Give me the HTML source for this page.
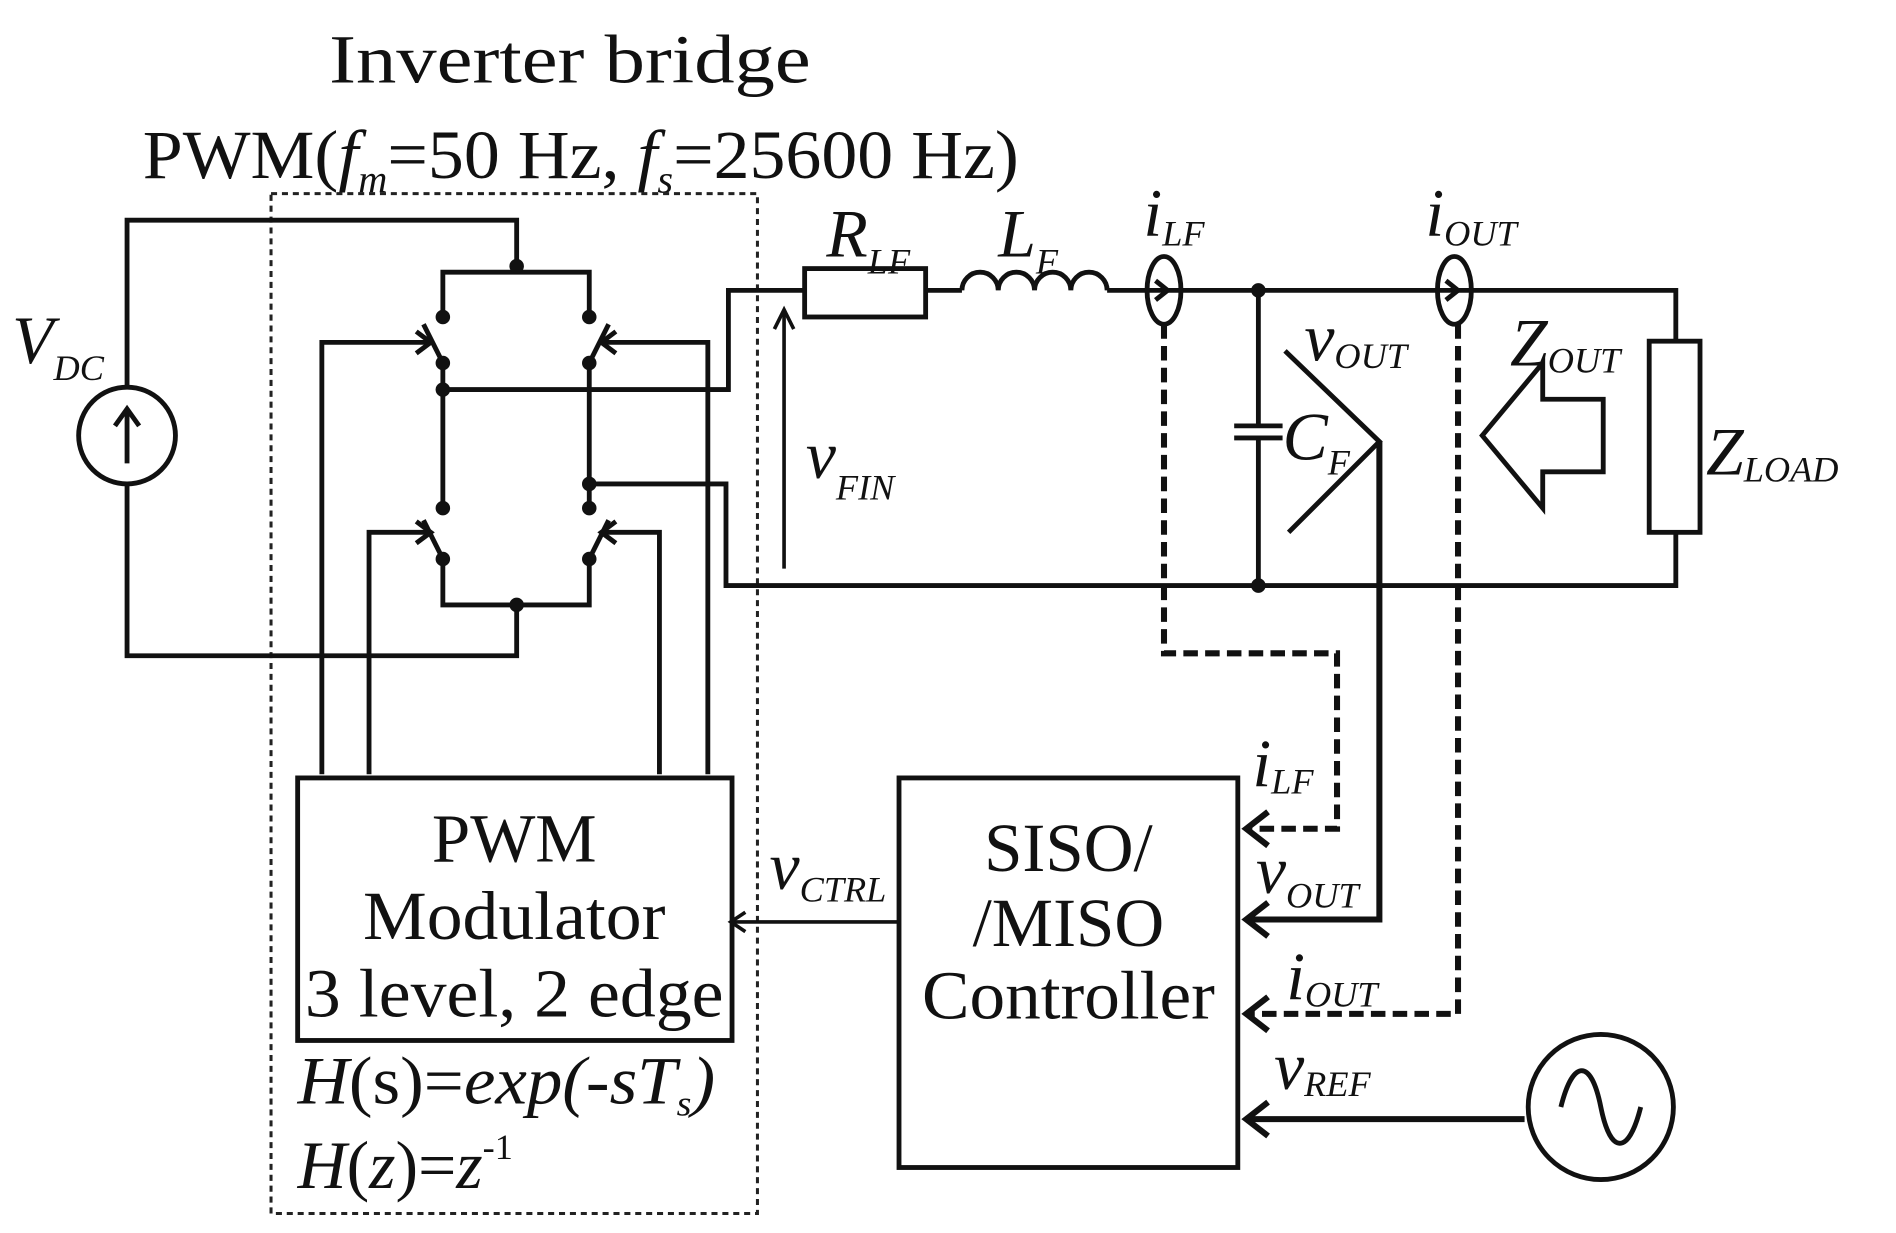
<!DOCTYPE html>
<html><head><style>html,body{margin:0;padding:0;background:#fff}svg{display:block}</style></head>
<body>
<svg width="1896" height="1233" viewBox="0 0 1556 1012" preserveAspectRatio="none" xmlns="http://www.w3.org/2000/svg" font-family="Liberation Serif, serif">
<rect width="1556" height="1012" fill="#fff"/>
<g transform="scale(0.993)">
<g fill="#111" font-size="57">
<text x="272" y="68" textLength="398" lengthAdjust="spacingAndGlyphs">Inverter bridge</text>
<text x="118" y="147" textLength="724" lengthAdjust="spacingAndGlyphs">PWM(<tspan font-style="italic">f</tspan><tspan font-size="32" font-style="italic" dy="12">m</tspan><tspan dy="-12">=50 Hz, </tspan><tspan font-style="italic">f</tspan><tspan font-size="32" font-style="italic" dy="12">s</tspan><tspan dy="-12">=25600 Hz)</tspan></text>
</g>
<rect x="224" y="160" width="402" height="843" fill="none" stroke="#222" stroke-width="2.5" stroke-dasharray="5,4"/>
<g fill="none" stroke="#111" stroke-width="4">
<polyline points="105,320 105,182 427,182 427,220"/>
<polyline points="105,400 105,542 427,542 427,500"/>
<circle cx="105" cy="360" r="40"/>
<line x1="105" y1="383" x2="105" y2="338"/>
<polyline points="95,352 105,338 115,352"/>
<polyline points="366,262 366,225 487,225 487,262"/>
<polyline points="366,462 366,500 487,500 487,462"/>
<line x1="366" y1="300" x2="366" y2="420"/>
<line x1="487" y1="300" x2="487" y2="420"/>
<line x1="366" y1="300" x2="350" y2="268"/>
<line x1="487" y1="300" x2="503" y2="268"/>
<line x1="366" y1="462" x2="350" y2="430"/>
<line x1="487" y1="462" x2="503" y2="430"/>
<polyline points="266,640 266,283 356,283"/>
<polyline points="344,274 356,283 344,292"/>
<polyline points="305,640 305,440 356,440"/>
<polyline points="344,431 356,440 344,449"/>
<polyline points="585,640 585,283 497,283"/>
<polyline points="509,274 497,283 509,292"/>
<polyline points="545,640 545,440 497,440"/>
<polyline points="509,431 497,440 509,449"/>
<polyline points="366,322 602,322 602,240 665,240"/>
<polyline points="487,400 600,400 600,484 1385,484 1385,440"/>
<rect x="665" y="222" width="100" height="40"/>
<line x1="765" y1="240" x2="795" y2="240"/>
<path d="M795,240 a15,15 0 0 1 30,0 a15,15 0 0 1 30,0 a15,15 0 0 1 30,0 a15,15 0 0 1 30,0"/>
<polyline points="915,240 1385,240 1385,282"/>
<rect x="1363" y="282" width="42" height="158"/>
<ellipse cx="962" cy="240" rx="14" ry="28"/>
<ellipse cx="1202" cy="240" rx="14" ry="28"/>
<polyline points="955,232 965,240 955,248"/>
<polyline points="1195,232 1205,240 1195,248"/>
<line x1="1040" y1="240" x2="1040" y2="352"/>
<line x1="1040" y1="362" x2="1040" y2="484"/>
<line x1="1020" y1="352" x2="1060" y2="352"/>
<line x1="1020" y1="362" x2="1060" y2="362"/>
<polyline points="1062,290 1140,365 1065,440"/>
<polygon points="1225,360 1275,300 1275,330 1325,330 1325,390 1275,390 1275,420"/>
<line x1="648" y1="470" x2="648" y2="258" stroke-width="3"/>
<polyline points="640,272 648,256 656,272" stroke-width="3"/>
<rect x="246" y="643" width="359" height="217"/>
<rect x="743" y="643" width="280" height="322"/>
<line x1="743" y1="762" x2="605" y2="762" stroke-width="3"/>
<polyline points="616,754 604,762 616,770" stroke-width="3"/>
<polyline points="1140,365 1140,760 1030,760" stroke-width="5"/>
<polyline points="1048,746 1030,760 1048,774" stroke-width="5"/>
<polyline points="1260,925 1030,925" stroke-width="5"/>
<polyline points="1048,911 1030,925 1048,939" stroke-width="5"/>
<polyline points="962,268 962,540 1105,540 1105,685 1030,685" stroke-width="5" stroke-dasharray="12,6"/>
<polyline points="1048,671 1030,685 1048,699" stroke-width="5"/>
<polyline points="1205,268 1205,838 1030,838" stroke-width="5" stroke-dasharray="12,6"/>
<polyline points="1048,824 1030,838 1048,852" stroke-width="5"/>
<circle cx="1323" cy="915" r="60"/>
<path d="M1290,915 C1300,875 1315,875 1323,915 C1331,955 1346,955 1356,915"/>
</g>
<g fill="#111">
<circle cx="427" cy="220" r="6"/><circle cx="427" cy="500" r="6"/>
<circle cx="366" cy="262" r="6"/><circle cx="487" cy="262" r="6"/>
<circle cx="366" cy="300" r="6"/><circle cx="487" cy="300" r="6"/>
<circle cx="366" cy="322" r="6"/><circle cx="487" cy="400" r="6"/>
<circle cx="366" cy="420" r="6"/><circle cx="487" cy="420" r="6"/>
<circle cx="366" cy="462" r="6"/><circle cx="487" cy="462" r="6"/>
<circle cx="1040" cy="240" r="6"/><circle cx="1040" cy="484" r="6"/>
</g>
<g fill="#111" font-size="56" font-style="italic">
<text x="10" y="300">V<tspan font-size="30" dy="14">DC</tspan></text>
<text x="683" y="212">R<tspan font-size="30" dy="14">LF</tspan></text>
<text x="825" y="212">L<tspan font-size="30" dy="14">F</tspan></text>
<text x="945" y="195">i<tspan font-size="30" dy="8">LF</tspan></text>
<text x="1178" y="195">i<tspan font-size="30" dy="8">OUT</tspan></text>
<text x="1078" y="298">v<tspan font-size="30" dy="6">OUT</tspan></text>
<text x="1248" y="302">Z<tspan font-size="30" dy="6">OUT</tspan></text>
<text x="1060" y="380">C<tspan font-size="30" dy="12">F</tspan></text>
<text x="1410" y="392">Z<tspan font-size="30" dy="6">LOAD</tspan></text>
<text x="666" y="395">v<tspan font-size="30" dy="18">FIN</tspan></text>
<text x="1035" y="650">i<tspan font-size="30" dy="6">LF</tspan></text>
<text x="1038" y="738">v<tspan font-size="30" dy="12">OUT</tspan></text>
<text x="1063" y="826">i<tspan font-size="30" dy="6">OUT</tspan></text>
<text x="1053" y="900">v<tspan font-size="30" dy="6">REF</tspan></text>
<text x="636" y="735">v<tspan font-size="30" dy="10">CTRL</tspan></text>
<text x="246" y="912" textLength="345" lengthAdjust="spacingAndGlyphs">H<tspan font-style="normal">(s)=</tspan>exp(-sT<tspan font-size="30" dy="10">s</tspan><tspan dy="-10">)</tspan></text>
<text x="246" y="982">H<tspan font-style="normal">(</tspan>z<tspan font-style="normal">)=</tspan>z<tspan font-size="30" font-style="normal" dy="-24">-1</tspan></text>
</g>
<g fill="#111" font-size="57" text-anchor="middle">
<text x="425" y="712">PWM</text>
<text x="425" y="776" textLength="250" lengthAdjust="spacingAndGlyphs">Modulator</text>
<text x="425" y="840" textLength="346" lengthAdjust="spacingAndGlyphs">3 level, 2 edge</text>
<text x="883" y="720">SISO/</text>
<text x="883" y="782">/MISO</text>
<text x="883" y="842" textLength="242" lengthAdjust="spacingAndGlyphs">Controller</text>
</g>
</g>
</svg>
</body></html>
